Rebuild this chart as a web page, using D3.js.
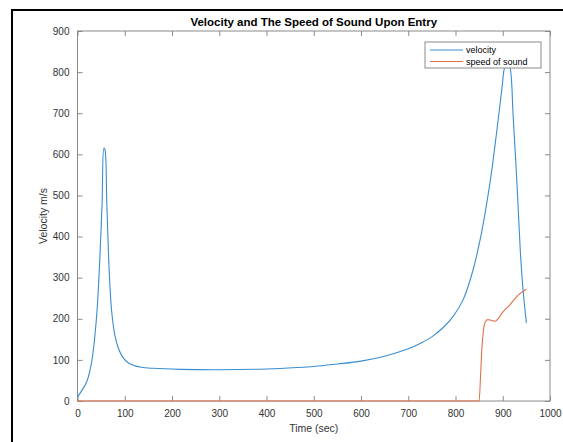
<!DOCTYPE html>
<html lang="en">
<head>
<meta charset="UTF-8">
<title>Velocity and The Speed of Sound Upon Entry</title>
<script src="https://cdn.jsdelivr.net/npm/d3@7"></script>
<style>
  body { margin: 0; background: #fff; }
  svg { display: block; font-family: "Liberation Sans", Arial, sans-serif; }
</style>
</head>
<body>
<div id="chart"></div>
<script>
// data: time (sec) and values (m/s)
var velTime  = [0, 10, 20, 30, 36, 42, 47, 52, 56, 58, 62, 67, 72, 79, 86, 95, 105, 118, 135, 160, 217, 300, 400, 500, 550, 600, 650, 700, 725, 750, 775, 795, 816, 837, 855, 873, 887, 898, 905, 910, 915, 922, 930, 937, 943, 950];
var velValue = [10, 27, 48, 95, 150, 230, 340, 480, 615, 612, 482, 320, 222, 160, 130, 108, 95, 87, 82, 79.5, 77, 76, 78, 84, 90, 97, 109, 127, 140, 156, 180, 206, 246, 318, 409, 531, 653, 758, 815, 820, 812, 693, 531, 368, 270, 190];

var sosTime  = [0, 850, 853, 856, 859, 863, 868, 876, 884, 892, 900, 915, 933, 950];
var sosValue = [0, 0, 60, 130, 170, 192, 198, 196, 194, 203, 216, 234, 258, 272];

var seriesNames = ["velocity", "speed of sound"];
var seriesColors = ["#3a8dd0", "#e0714a"];
var xTicks = d3.range(0, 1001, 100);
var yTicks = d3.range(0, 901, 100);

var W = 563, H = 442;
var margin = {left: 77.5, right: 13, top: 31, bottom: 41};

var svg = d3.select("#chart").append("svg")
    .attr("width", W).attr("height", H);

// screenshot frame
svg.append("line").attr("x1", 11).attr("x2", W).attr("y1", 10).attr("y2", 10)
    .attr("stroke", "#000").attr("stroke-width", 2);
svg.append("line").attr("x1", 12).attr("x2", 12).attr("y1", 10).attr("y2", H)
    .attr("stroke", "#000").attr("stroke-width", 2);

var x = d3.scaleLinear().domain([0, 1000]).range([margin.left, W - margin.right]);
var y = d3.scaleLinear().domain([0, 900]).range([H - margin.bottom, margin.top]);

var axisColor = "#8a8a8a", textColor = "#333";

function styleAxis(g) {
  g.select(".domain").remove();
  g.selectAll(".tick line").attr("stroke", axisColor);
  g.selectAll(".tick text").attr("fill", textColor).attr("font-size", 10);
}

// bottom / left with labels, top / right ticks only (box on)
svg.append("g").attr("transform", "translate(0," + y(0) + ")")
  .call(d3.axisBottom(x).tickValues(xTicks).tickSize(-5).tickPadding(9).tickFormat(d3.format("d")))
  .call(styleAxis);
svg.append("g").attr("transform", "translate(" + x(0) + ",0)")
  .call(d3.axisLeft(y).tickValues(yTicks).tickSize(-5).tickPadding(8).tickFormat(d3.format("d")))
  .call(styleAxis);
svg.append("g").attr("transform", "translate(0," + y(900) + ")")
  .call(d3.axisTop(x).tickValues(xTicks).tickSize(-5).tickFormat(""))
  .call(styleAxis);
svg.append("g").attr("transform", "translate(" + x(1000) + ",0)")
  .call(d3.axisRight(y).tickValues(yTicks).tickSize(-5).tickFormat(""))
  .call(styleAxis);

svg.append("rect")
  .attr("x", x(0)).attr("y", y(900))
  .attr("width", x(1000) - x(0)).attr("height", y(0) - y(900))
  .attr("fill", "none").attr("stroke", axisColor).attr("stroke-width", 1);

var velLine = d3.line()
  .x(function(d) { return x(d[0]); })
  .y(function(d) { return y(d[1]); })
  .curve(d3.curveCatmullRom.alpha(0.5));
var sosLine = d3.line()
  .x(function(d) { return x(d[0]); })
  .y(function(d) { return y(d[1]); })
  .curve(d3.curveMonotoneX);

var series = [
  {pts: d3.zip(velTime, velValue), gen: velLine},
  {pts: d3.zip(sosTime, sosValue), gen: sosLine}
];

svg.append("g").selectAll("path")
  .data(series)
  .join("path")
  .attr("d", function(d) { return d.gen(d.pts); })
  .attr("fill", "none")
  .attr("stroke", function(d, i) { return seriesColors[i]; })
  .attr("stroke-width", 1.1);

// title and labels
svg.append("text")
  .attr("x", (x(0) + x(1000)) / 2).attr("y", 26)
  .attr("text-anchor", "middle").attr("font-weight", "bold").attr("font-size", 11.5)
  .attr("fill", "#000")
  .text("Velocity and The Speed of Sound Upon Entry");

svg.append("text")
  .attr("x", (x(0) + x(1000)) / 2).attr("y", 432)
  .attr("text-anchor", "middle").attr("font-size", 10.5).attr("fill", textColor)
  .text("Time (sec)");

svg.append("text")
  .attr("transform", "translate(47," + (y(0) + y(900)) / 2 + ") rotate(-90)")
  .attr("text-anchor", "middle").attr("font-size", 10.5).attr("fill", textColor)
  .text("Velocity m/s");

// legend
var legend = svg.append("g").attr("transform", "translate(425,42)");
legend.append("rect")
  .attr("width", 116).attr("height", 26)
  .attr("fill", "#fff").attr("stroke", axisColor);
legend.selectAll("line")
  .data(seriesNames)
  .join("line")
  .attr("x1", 5).attr("x2", 38)
  .attr("y1", function(d, i) { return 8 + i * 11.5; })
  .attr("y2", function(d, i) { return 8 + i * 11.5; })
  .attr("stroke", function(d, i) { return seriesColors[i]; });
legend.selectAll("text")
  .data(seriesNames)
  .join("text")
  .attr("x", 41)
  .attr("y", function(d, i) { return 8 + i * 11.5; })
  .attr("dy", "0.35em")
  .attr("font-size", 9).attr("fill", "#000")
  .text(function(d) { return d; });
</script>
</body>
</html>
